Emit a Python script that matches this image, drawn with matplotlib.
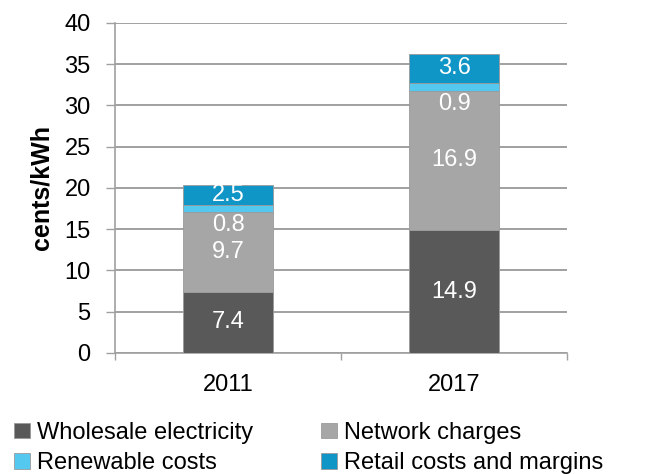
import numpy as np
import matplotlib.pyplot as plt

plt.rcParams['font.family'] = ['Liberation Sans', 'DejaVu Sans']

years = ['2011', '2017']
wholesale = [7.4, 14.9]
network = [9.7, 16.9]
renewable = [0.8, 0.9]
retail = [2.5, 3.6]

series = [
    ('Wholesale electricity', wholesale, '#595959'),
    ('Network charges', network, '#a6a6a6'),
    ('Renewable costs', renewable, '#55c8ef'),
    ('Retail costs and margins', retail, '#0f95c6'),
]

fig = plt.figure(figsize=(6.61, 4.74), dpi=100)
ax = fig.add_axes([0.174, 0.2553, 0.684, 0.6962])

x = np.arange(len(years))
bottom = np.zeros(len(years))
handles = []
for name, vals, color in series:
    vals = np.array(vals)
    bars = ax.bar(x, vals, width=0.4, bottom=bottom, color=color, label=name,
                  edgecolor='#9a9a9a', linewidth=0.6, zorder=3)
    handles.append(bars)
    for xi, b, v in zip(x, bottom, vals):
        dy = -12 if name == 'Renewable costs' else 0
        ax.annotate('{0}'.format(v), (xi, b + v / 2), xytext=(0, dy),
                    textcoords='offset points', ha='center', va='center',
                    color='white', fontsize=17, zorder=4)
    bottom += vals

ax.set_xlim(-0.5, 1.5)
ax.set_ylim(0, 40)
ax.set_yticks(range(0, 41, 5))
ax.set_xticks(x)
ax.set_xticklabels(years)
ax.set_xticks([-0.5, 0.5, 1.5], minor=True)
ax.yaxis.grid(True, color='#a0a0a0', linewidth=1.4, zorder=0)
ax.tick_params(axis='y', labelsize=17, length=6.5, width=1, color='#a0a0a0', pad=11)
ax.tick_params(axis='x', which='major', labelsize=17, length=0, pad=15)
ax.tick_params(axis='x', which='minor', length=5, width=1, color='#a0a0a0')
for side in ['top', 'right']:
    ax.spines[side].set_visible(False)
for side in ['left', 'bottom']:
    ax.spines[side].set_color('#a0a0a0')
    ax.spines[side].set_linewidth(1.2)
ax.set_ylabel('cents/kWh', fontsize=18, fontweight='bold', labelpad=8)

# legend fills column-wise, so order the entries to read row by row
order = [0, 2, 1, 3]
fig.legend([handles[i] for i in order], [series[i][0] for i in order],
           loc='lower left', bbox_to_anchor=(0.0, -0.03), ncol=2, frameon=False,
           fontsize=17, handlelength=0.65, handleheight=0.65, handletextpad=0.3,
           columnspacing=2.9, labelspacing=0.35, borderaxespad=0.2)

fig.savefig('out.png', dpi=100)
